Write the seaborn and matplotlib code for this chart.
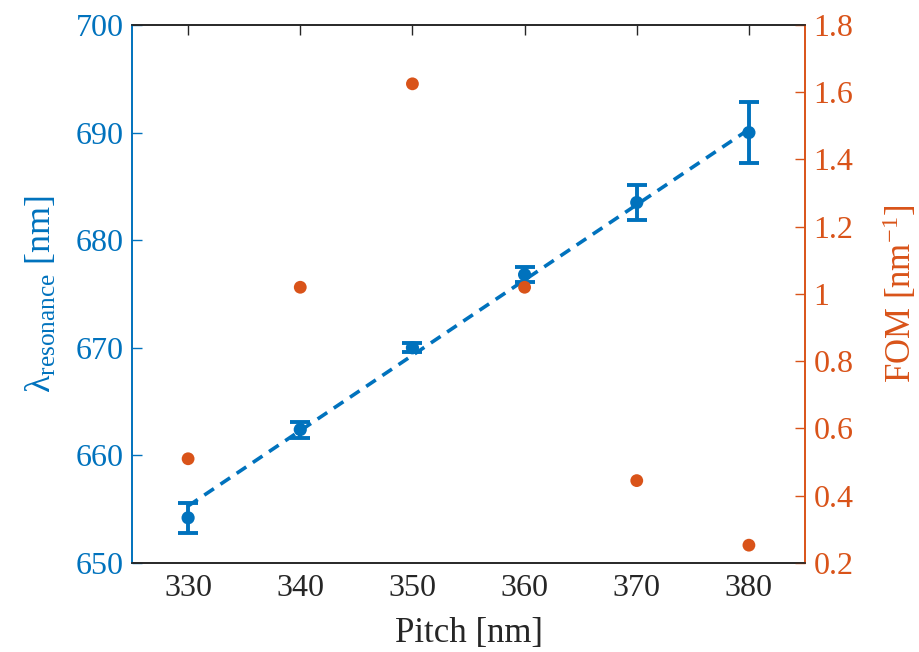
import numpy as np
import pandas as pd
import matplotlib
matplotlib.use("Agg")
import matplotlib.pyplot as plt
import seaborn as sns

# data
pitch = [330, 340, 350, 360, 370, 380]
wavelength = [654.2, 662.4, 670.0, 676.8, 683.5, 690.0]
wavelength_err = [1.4, 0.75, 0.4, 0.7, 1.6, 2.8]
fom = [0.51, 1.02, 1.625, 1.02, 0.445, 0.253]
fit_pitch = [330, 380]
fit_wavelength = [655.3, 690.3]

blue = "#0072BD"
orange = "#D95319"
grey = "#262626"

sns.set_style("white")
plt.rcParams["font.family"] = ["Liberation Serif", "DejaVu Serif"]
plt.rcParams["mathtext.fontset"] = "custom"
plt.rcParams["mathtext.rm"] = "Liberation Serif"
plt.rcParams["mathtext.it"] = "Liberation Serif:italic"

df = pd.DataFrame({"pitch": pitch, "wl": wavelength, "err": wavelength_err, "fom": fom})
fit = pd.DataFrame({"pitch": fit_pitch, "wl": fit_wavelength})

fig = plt.figure(figsize=(9.2, 6.52), dpi=100)
ax = fig.add_axes([0.1435, 0.1365, 0.7315, 0.8252])
ax2 = ax.twinx()

sns.lineplot(data=fit, x="pitch", y="wl", ax=ax, color=blue, linewidth=2.6,
             dashes=False, linestyle=(0, (3.2, 2.2)))
ax.errorbar(df["pitch"], df["wl"], yerr=df["err"], fmt="none", ecolor=blue,
            elinewidth=2.8, capsize=7, capthick=2.8)
sns.scatterplot(data=df, x="pitch", y="wl", ax=ax, color=blue, s=90,
                edgecolor="none", zorder=5)
sns.scatterplot(data=df, x="pitch", y="fom", ax=ax2, color=orange, s=85,
                edgecolor="none", zorder=5)

ax.set_xlim(325, 385)
ax.set_ylim(650, 700)
ax2.set_ylim(0.2, 1.8)
ax.set_xticks([330, 340, 350, 360, 370, 380])
ax.set_yticks([650, 660, 670, 680, 690, 700])
ax2.set_yticks([0.2, 0.4, 0.6, 0.8, 1.0, 1.2, 1.4, 1.6, 1.8])
ax2.set_yticklabels(["0.2", "0.4", "0.6", "0.8", "1", "1.2", "1.4", "1.6", "1.8"])

ax.set_xlabel("Pitch [nm]", fontsize=25, color=grey, labelpad=10)
ax.set_ylabel(r"λ$_{\rm resonance}$ [nm]", fontsize=26, color=blue, labelpad=12)
ax2.set_ylabel(r"FOM [nm$^{-1}$]", fontsize=25, color=orange, labelpad=20)

ax.tick_params(axis="x", direction="in", length=7, width=1, colors=grey,
               labelsize=23, top=True, pad=8)
ax.tick_params(axis="y", direction="in", length=7, width=1, colors=blue,
               labelsize=23, pad=6)
ax2.tick_params(axis="y", direction="in", length=7, width=1, colors=orange,
                labelsize=23, pad=6)

for a in (ax, ax2):
    a.spines["top"].set_color(grey)
    a.spines["bottom"].set_color(grey)
    a.spines["left"].set_color(blue)
    a.spines["right"].set_color(orange)
    for s in a.spines.values():
        s.set_linewidth(1.2)
    a.grid(False)

plt.savefig("out.png", dpi=100)
